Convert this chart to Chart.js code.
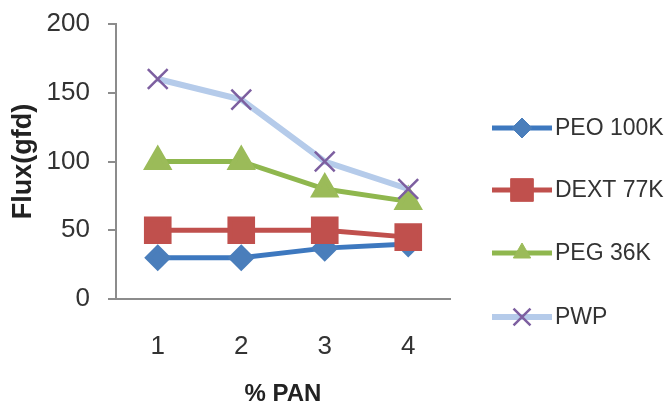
<!DOCTYPE html>
<html>
<head>
<meta charset="utf-8">
<script src="https://cdn.jsdelivr.net/npm/chart.js@4/dist/chart.umd.min.js"></script>
<style>
  html, body { margin: 0; padding: 0; background: #fff; }
  #wrap { width: 668px; height: 414px; }
</style>
</head>
<body>
<div id="wrap"><canvas id="fluxChart"></canvas></div>
<script>
// values
const panLabels = ['1', '2', '3', '4'];
const peo100k = [30, 30, 37, 40];
const dext77k = [50, 50, 50, 45];
const peg36k = [100, 100, 80, 71];
const pwp = [160, 145, 100, 80];
const seriesNames = ['PEO 100K', 'DEXT 77K', 'PEG 36K', 'PWP'];
const yTicks = [0, 50, 100, 150, 200];

const FONT = "'Liberation Sans', Arial, sans-serif";
const TXT = '#333333';

const datasets = [
  { label: seriesNames[0], data: peo100k, borderColor: '#3d78bf', backgroundColor: '#4a7ebb',
    pointStyle: 'rectRot', pointRadius: 10, pointBorderColor: '#4a7ebb', borderWidth: 5, order: 3 },
  { label: seriesNames[1], data: dext77k, borderColor: '#c0504d', backgroundColor: '#c0504d',
    pointStyle: 'rect', pointRadius: 16, pointBorderColor: '#c0504d', borderWidth: 5, order: 2 },
  { label: seriesNames[2], data: peg36k, borderColor: '#8fb74e', backgroundColor: '#9bbb59',
    pointStyle: 'triangle', pointRadius: 12, pointBorderColor: '#9bbb59', borderWidth: 5, order: 1 },
  { label: seriesNames[3], data: pwp, borderColor: '#b5cbea', backgroundColor: '#7d5fa0',
    pointStyle: 'crossRot', pointRadius: 14, pointBorderColor: '#7d5fa0', pointBorderWidth: 2.5, borderWidth: 6, order: 0 }
];

// legend on the right: short line with the marker in the middle, then the name
const sideLegend = {
  id: 'sideLegend',
  afterDraw(chart) {
    const ctx = chart.ctx;
    const x0 = 492, x1 = 552, ys = [128, 190, 253, 317];
    chart.data.datasets.forEach((ds, i) => {
      const y = ys[i];
      ctx.save();
      ctx.strokeStyle = ds.borderColor;
      ctx.lineWidth = ds.borderWidth;
      ctx.beginPath();
      ctx.moveTo(x0, y);
      ctx.lineTo(x1, y);
      ctx.stroke();
      ctx.fillStyle = ds.backgroundColor;
      ctx.strokeStyle = ds.pointBorderColor;
      ctx.lineWidth = ds.pointBorderWidth || 1;
      Chart.helpers.drawPoint(ctx, {
        pointStyle: ds.pointStyle,
        radius: ds.pointStyle === 'triangle' ? 10 : ds.pointStyle === 'crossRot' ? 12 : ds.pointRadius,
        borderWidth: ds.pointBorderWidth || 1,
        rotation: 0
      }, (x0 + x1) / 2, y);
      ctx.fillStyle = TXT;
      ctx.font = '23px ' + FONT;
      ctx.textBaseline = 'middle';
      ctx.textAlign = 'left';
      ctx.fillText(ds.label, 555, y + 1);
      ctx.restore();
    });
  }
};

new Chart(document.getElementById('fluxChart'), {
  type: 'line',
  data: { labels: panLabels, datasets: datasets },
  plugins: [sideLegend],
  options: {
    responsive: true,
    maintainAspectRatio: false,
    animation: false,
    layout: { padding: { left: 0, right: 218, top: 24, bottom: 0 } },
    elements: { line: { tension: 0 } },
    plugins: { legend: { display: false }, tooltip: { enabled: false } },
    scales: {
      x: {
        offset: true,
        afterFit(scale) { scale.height = 115; },
        grid: { display: false },
        border: { color: '#8c8c8c', width: 2 },
        ticks: { color: TXT, font: { family: FONT, size: 26 }, padding: 24 },
        title: { display: true, text: '% PAN', color: '#222', font: { family: FONT, size: 24, weight: 'bold' }, padding: { top: 0, bottom: 5 } }
      },
      y: {
        min: 0,
        max: 200,
        afterBuildTicks(scale) { scale.ticks = yTicks.map(v => ({ value: v })); },
        afterFit(scale) { scale.width = 116; scale.paddingTop = 0; scale.paddingBottom = 0; },
        grid: { drawOnChartArea: false, drawTicks: true, tickLength: 8, color: '#8c8c8c', lineWidth: 2 },
        border: { color: '#8c8c8c', width: 2 },
        ticks: { color: TXT, font: { family: FONT, size: 26 }, padding: 18 },
        title: { display: true, text: 'Flux(gfd)', color: '#222', font: { family: FONT, size: 27, weight: 'bold' }, padding: { top: 7, bottom: 0 } }
      }
    }
  }
});
</script>
</body>
</html>
